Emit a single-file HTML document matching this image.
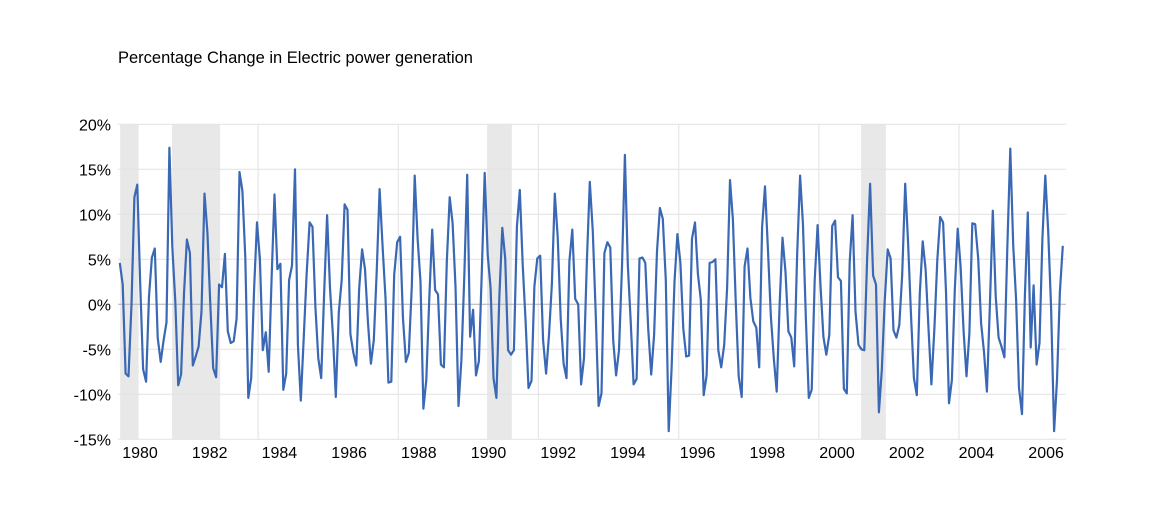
<!DOCTYPE html>
<html><head><meta charset="utf-8"><style>
body{margin:0;background:#fff;width:1152px;height:517px;overflow:hidden;font-family:"Liberation Sans",sans-serif;}
svg text{font-family:"Liberation Sans",sans-serif;fill:#000;}
</style></head><body>
<svg id="chart" width="1152" height="517" viewBox="0 0 1152 517" xmlns="http://www.w3.org/2000/svg">
<text x="118" y="63" font-size="16.5">Percentage Change in Electric power generation</text>
<g id="bands"></g><g id="grid"></g><g id="ylabels"></g><g id="xlabels"></g><g id="series"></g>
</svg>
<script>
const values = [4.6,2.2,-7.7,-8.0,0,11.9,13.3,2.3,-7.2,-8.6,0.9,5.2,6.2,-3.7,-6.4,-4,-2,17.4,6.4,0.3,-9,-7.8,1.2,7.2,5.7,-6.8,-5.8,-4.7,-0.8,12.3,8,0,-7.1,-8.1,2.2,1.9,5.6,-3,-4.3,-4.1,-1.6,14.7,12.6,5.2,-10.4,-8.2,1.7,9.1,5,-5.1,-3.1,-7.5,2.9,12.2,3.9,4.5,
-9.5,-7.7,2.7,4.3,15,-4.5,-10.7,-3.8,3.3,9.1,8.6,-0.3,-6,-8.2,1.4,9.9,1.8,-3.4,-10.3,-0.9,2.7,11.1,10.5,-3.3,-5.4,-6.8,1.8,6.1,3.9,-2.1,-6.6,-4,3.6,12.8,6.4,0.7,-8.7,-8.6,3.3,6.9,7.5,-1.6,-6.4,-5.4,2,14.3,7.3,2.5,-11.6,-8.4,0.7,8.3,1.6,1.1,
-6.7,-7,4.7,11.9,9,2,-11.3,-6.2,3.1,14.4,-3.6,-0.6,-7.9,-6.3,3.6,14.6,5.5,1.8,-8.2,-10.4,0.7,8.5,5.1,-5.1,-5.6,-5.1,8.6,12.7,4.4,-1.9,-9.3,-8.5,2,5.1,5.4,-4,-7.7,-3.4,2.3,12.3,7.5,-1.6,-6.6,-8.2,4.8,8.3,0.6,0,-8.9,-6,4.9,13.6,
8.1,-1,-11.3,-9.9,5.7,6.9,6.3,-4,-7.9,-5.1,4.2,16.6,4.4,-1.9,-8.9,-8.3,5.1,5.2,4.6,-2.7,-7.8,-3.4,5.9,10.7,9.5,2.7,-14.1,-7.1,2.5,7.8,4.6,-2.7,-5.8,-5.7,7.3,9.1,3.4,0.5,-10.1,-7.9,4.6,4.7,5,-5.1,-7,-4.5,1.8,13.8,9.4,0.1,-8,-10.3,4.2,6.2,0.7,-1.9,-2.6,-7,
8.6,13.1,6.2,-1.4,-6,-9.7,-0.1,7.4,3.6,-3,-3.7,-6.9,5.4,14.3,8.8,-1.7,-10.4,-9.5,2.7,8.8,2.1,-3.6,-5.6,-3.4,8.7,9.3,3,2.6,-9.4,-9.9,4.7,9.9,-0.8,-4.5,-5,-5.1,5.3,13.4,3.2,2.2,-12,-7.3,0.3,6.1,5.1,-2.9,-3.7,-2.3,3.3,13.4,
6.8,-1.2,-8.2,-10.1,1.2,7,3.9,-2.7,-8.9,-2.7,4.9,9.7,9.1,1.4,-11,-8.4,1.6,8.4,4.2,-3,-8,-3.2,9,8.9,5.1,-2.1,-5.3,-9.7,-0.4,10.4,0.9,-3.7,-4.7,-5.9,6.6,17.3,6.6,0.5,-9.3,-12.2,1,10.2,-4.8,2.1,-6.7,-4.3,7.3,14.3,8.1,-0.4,-14.1,-8.4,1.4,6.5];
const yTicks = [20,15,10,5,0,-5,-10,-15];
const xTickYears = [1980,1982,1984,1986,1988,1990,1992,1994,1996,1998,2000,2002,2004,2006];
const recessions = [[1979.43,1979.96],[1980.92,1982.30],[1989.96,1990.67],[2000.69,2001.40]];
const gridYears = [1983.39,1987.41,1991.43,1995.46,1999.48,2003.5];
const startYear = 1979.42, endYear = 2006.48;
const NS="http://www.w3.org/2000/svg";
const X0=118, X1=1066;
function yScale(v){return 304.3 - v*9;}
function xYear(yr){return 140 + (yr-1980)*34.85;}
function xIndex(i){return xYear(startYear + (endYear-startYear)*i/(values.length-1));}
function mk(tag,attrs,parent){const e=document.createElementNS(NS,tag);for(const k in attrs)e.setAttribute(k,attrs[k]);parent.appendChild(e);return e;}
const bands=document.getElementById('bands');
recessions.forEach(r=>{
  const e=mk('rect',{x:xYear(r[0]),y:yScale(20),width:xYear(r[1])-xYear(r[0]),height:yScale(-15)-yScale(20),fill:'#e8e8e8'},bands);
  
  
});
const grid=document.getElementById('grid');
gridYears.forEach(g=>{
  const e=mk('line',{x1:xYear(g),x2:xYear(g),y1:yScale(20),y2:yScale(-15),stroke:'#e2e2e2','stroke-width':1},grid);
  
  
});
const yl=document.getElementById('ylabels');
yTicks.forEach(t=>{
  const e=mk('line',{x1:X0,x2:X1,y1:yScale(t),y2:yScale(t),stroke:t===0?'#b0b0b0':'#e2e2e2','stroke-width':1},grid);
  
  
  const l=mk('text',{x:111,y:yScale(t)+6,'text-anchor':'end','font-size':16},yl);
  l.textContent=t+'%';
  
  
});
const xl=document.getElementById('xlabels');
xTickYears.forEach(y=>{
  const l=mk('text',{x:xYear(y),y:458,'text-anchor':'middle','font-size':16},xl);
  l.textContent=y;
  
  
});
const pts=values.map((v,i)=>xIndex(i).toFixed(1)+','+yScale(v).toFixed(1)).join(' ');
const line=mk('polyline',{points:pts,fill:'none',stroke:'#3a68b4','stroke-width':2.2,'stroke-linejoin':'round'},document.getElementById('series'));


</script>
</body></html>
